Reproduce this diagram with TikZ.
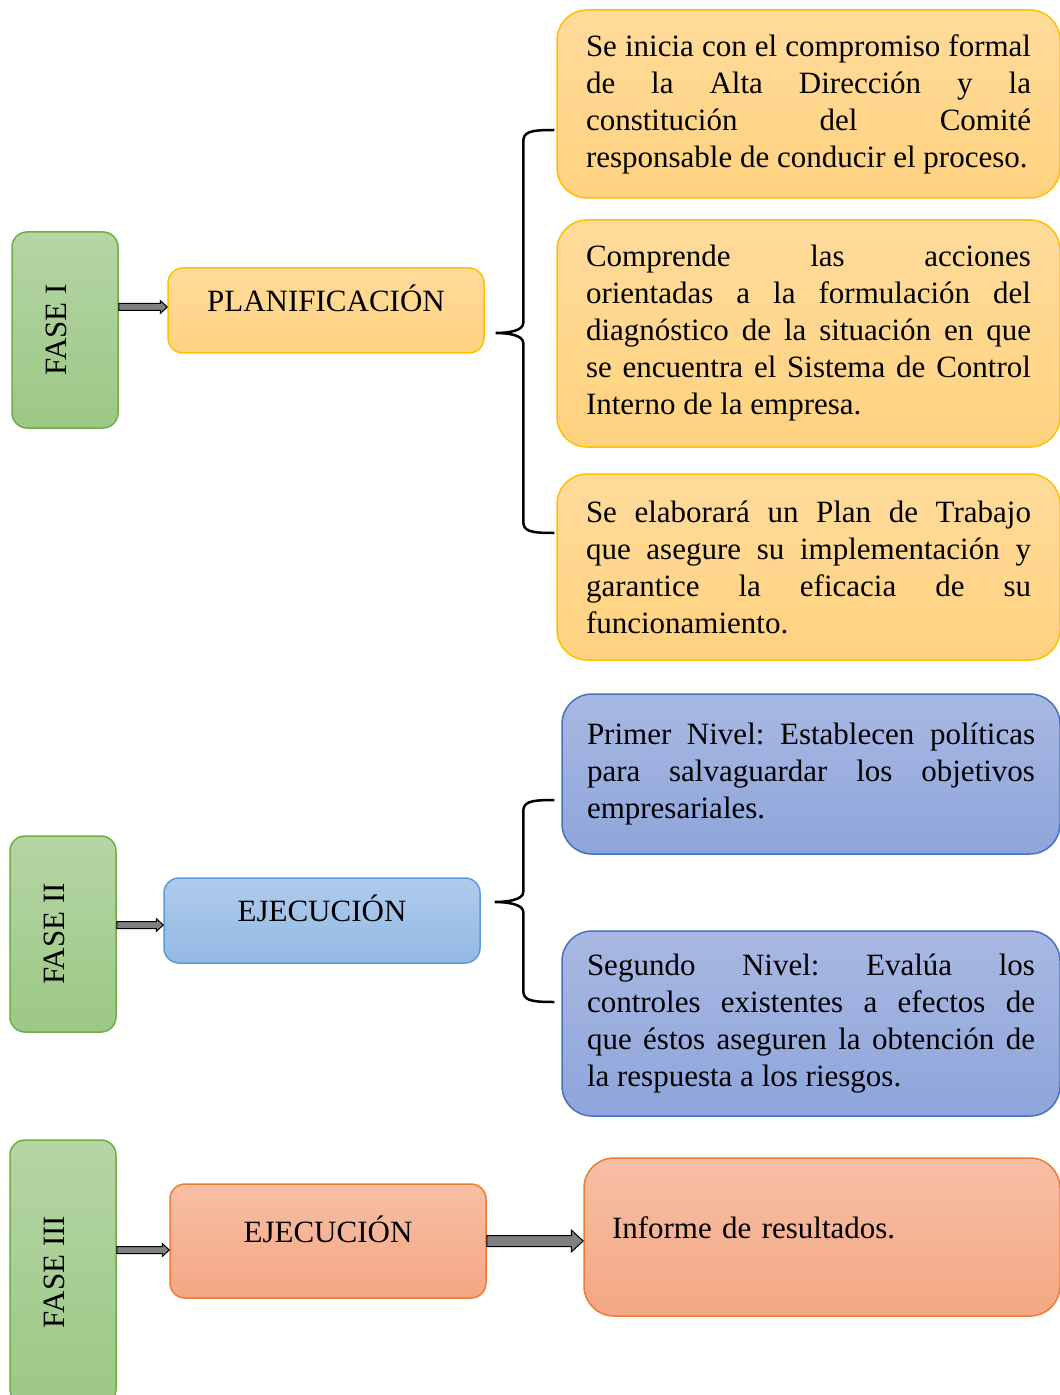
\documentclass[tikz,border=0pt]{standalone}
\usepackage{fontspec}
\setmainfont{Liberation Serif}
\usetikzlibrary{positioning,calc}
\definecolor{FaseTop}{RGB}{181,213,165}
\definecolor{FaseBot}{RGB}{156,200,133}
\definecolor{FaseLine}{RGB}{112,173,71}
\definecolor{OroTop}{RGB}{255,219,155}
\definecolor{OroBot}{RGB}{255,210,127}
\definecolor{OroLine}{RGB}{255,192,0}
\definecolor{CeleTop}{RGB}{174,203,236}
\definecolor{CeleBot}{RGB}{148,185,229}
\definecolor{CeleLine}{RGB}{91,155,213}
\definecolor{AzulTop}{RGB}{168,184,226}
\definecolor{AzulBot}{RGB}{142,165,219}
\definecolor{AzulLine}{RGB}{68,114,196}
\definecolor{SalTop}{RGB}{247,191,165}
\definecolor{SalBot}{RGB}{244,167,132}
\definecolor{SalLine}{RGB}{237,125,49}
\hyphenpenalty=10000
\exhyphenpenalty=10000
\tolerance=10000
\frenchspacing
\tikzset{
  fase/.style={draw=FaseLine,top color=FaseTop,bottom color=FaseBot,line width=0.75pt,
    rounded corners=7.5pt,minimum width=53pt,minimum height=98pt,inner sep=0pt},
  etapa/.style={rounded corners=7.5pt,line width=0.75pt,minimum width=158pt,
    minimum height=42.5pt,text height=11pt,text depth=10pt,inner sep=0pt},
  detalle/.style={rounded corners=15pt,line width=0.75pt,inner sep=0pt,align=justify},
  oro/.style={draw=OroLine,top color=OroTop,bottom color=OroBot},
  cele/.style={draw=CeleLine,top color=CeleTop,bottom color=CeleBot},
  azul/.style={draw=AzulLine,top color=AzulTop,bottom color=AzulBot},
  salmon/.style={draw=SalLine,top color=SalTop,bottom color=SalBot},
  blockarr/.style={draw=black,fill=gray,line width=0.5pt,line join=miter},
  llave/.style={draw=black,line width=1.25pt},
}
\newcommand{\fasetext}[1]{\rotatebox{90}{#1\rule[-9pt]{0pt}{0pt}}}
% start, end, half shaft, half head, head length
\newcommand{\blockarrow}[5]{%
  \draw[blockarr] ($(#1)+(0,#3)$) -- ($(#2)+(-#5,#3)$) -- ($(#2)+(-#5,#4)$) -- (#2)
    -- ($(#2)+(-#5,-#4)$) -- ($(#2)+(-#5,-#3)$) -- ($(#1)+(0,-#3)$) -- cycle;}
% top end, tip, bottom end
\newcommand{\llave}[3]{%
  \draw[llave] (#1) .. controls +(-25,0) and +(0,-10) .. ($(#1)+(-31,12)$)
    -- ($(#2 -| #1)+(-31,-10)$) .. controls +(0,8) and +(12,0) .. (#2)
    .. controls +(12,0) and +(0,-8) .. ($(#2 -| #1)+(-31,10)$)
    -- ($(#3)+(-31,-12)$) .. controls +(0,10) and +(-25,0) .. (#3);}

\begin{document}
\begin{tikzpicture}[x=0.5pt,y=-0.5pt,font=\fontsize{15.5}{18.5}\selectfont]
\useasboundingbox (0,0) rectangle (1059,1395);
% fases
\node[fase] (fase1) at (65,330) {\fasetext{FASE I}};
\node[fase] (fase2) at (63,934) {\fasetext{FASE II}};
\node[fase,minimum height=132pt] (fase3) at (63,1272) {\fasetext{FASE III}};
% etapas
\node[etapa,oro] (planif) at (326,310.5) {PLANIFICACIÓN};
\node[etapa,cele] (ejec2) at (322,920.5) {EJECUCIÓN};
\node[etapa,salmon,minimum height=57pt] (ejec3) at (328,1241) {EJECUCIÓN};
% detalles
\node[detalle,oro,text width=222.5pt,minimum width=251.5pt,minimum height=94pt] (d1) at (808.5,104)
  {Se inicia con el compromiso formal\linebreak de la Alta Dirección y la\linebreak constitución del Comité\linebreak responsable de conducir el proceso.};
\node[detalle,oro,text width=222.5pt,minimum width=251.5pt,minimum height=113.5pt] (d2) at (808.5,333.5)
  {Comprende las acciones\linebreak orientadas a la formulación del\linebreak diagnóstico de la situación en que\linebreak se encuentra el Sistema de Control\linebreak Interno de la empresa.};
\node[detalle,oro,text width=222.5pt,minimum width=251.5pt,minimum height=93pt] (d3) at (808.5,567)
  {Se elaborará un Plan de Trabajo\linebreak que asegure su implementación y\linebreak garantice la eficacia de su\linebreak funcionamiento.};
\node[detalle,azul,text width=224pt,minimum width=249pt,minimum height=80pt] (d4) at (811,774)
  {Primer Nivel: Establecen políticas\linebreak para salvaguardar los objetivos\linebreak empresariales.};
\node[detalle,azul,text width=224pt,minimum width=249pt,minimum height=92.5pt] (d5) at (811,1023.5)
  {Segundo Nivel: Evalúa los\linebreak controles existentes a efectos de\linebreak que éstos aseguren la obtención de\linebreak la respuesta a los riesgos.};
\node[detalle,salmon,align=left,text width=210pt,minimum width=238pt,minimum height=79pt,
  text height=11pt,text depth=10pt] (inf) at (822,1237) {Informe de resultados.};
% flechas
\coordinate (p1e) at ([yshift=1.75pt]planif.west);
\coordinate (p1s) at (fase1.east |- p1e);
\coordinate (p2e) at ([yshift=-2.25pt]ejec2.west);
\coordinate (p2s) at (fase2.east |- p2e);
\coordinate (p3e) at ([yshift=-4.5pt]ejec3.west);
\coordinate (p3s) at (fase3.east |- p3e);
\coordinate (p4e) at (inf.west |- ejec3.east);
\blockarrow{p1s}{p1e}{3.5}{6.5}{7}
\blockarrow{p2s}{p2e}{3.5}{6.5}{7}
\blockarrow{p3s}{p3e}{3.5}{6.5}{7}
\blockarrow{ejec3.east}{p4e}{5.5}{11}{12}
% llaves
\coordinate (l1a) at ($(d1.west)+(-2,26)$);
\coordinate (l1b) at ($(planif.east)+(11,22.5)$);
\coordinate (l1c) at ($(d3.west)+(-2,-34)$);
\coordinate (l2a) at ($(d4.west)+(-7,26)$);
\coordinate (l2b) at ($(ejec2.east)+(14,-18.5)$);
\coordinate (l2c) at ($(d5.west)+(-7,-21.5)$);
\llave{l1a}{l1b}{l1c}
\llave{l2a}{l2b}{l2c}
\end{tikzpicture}
\end{document}
